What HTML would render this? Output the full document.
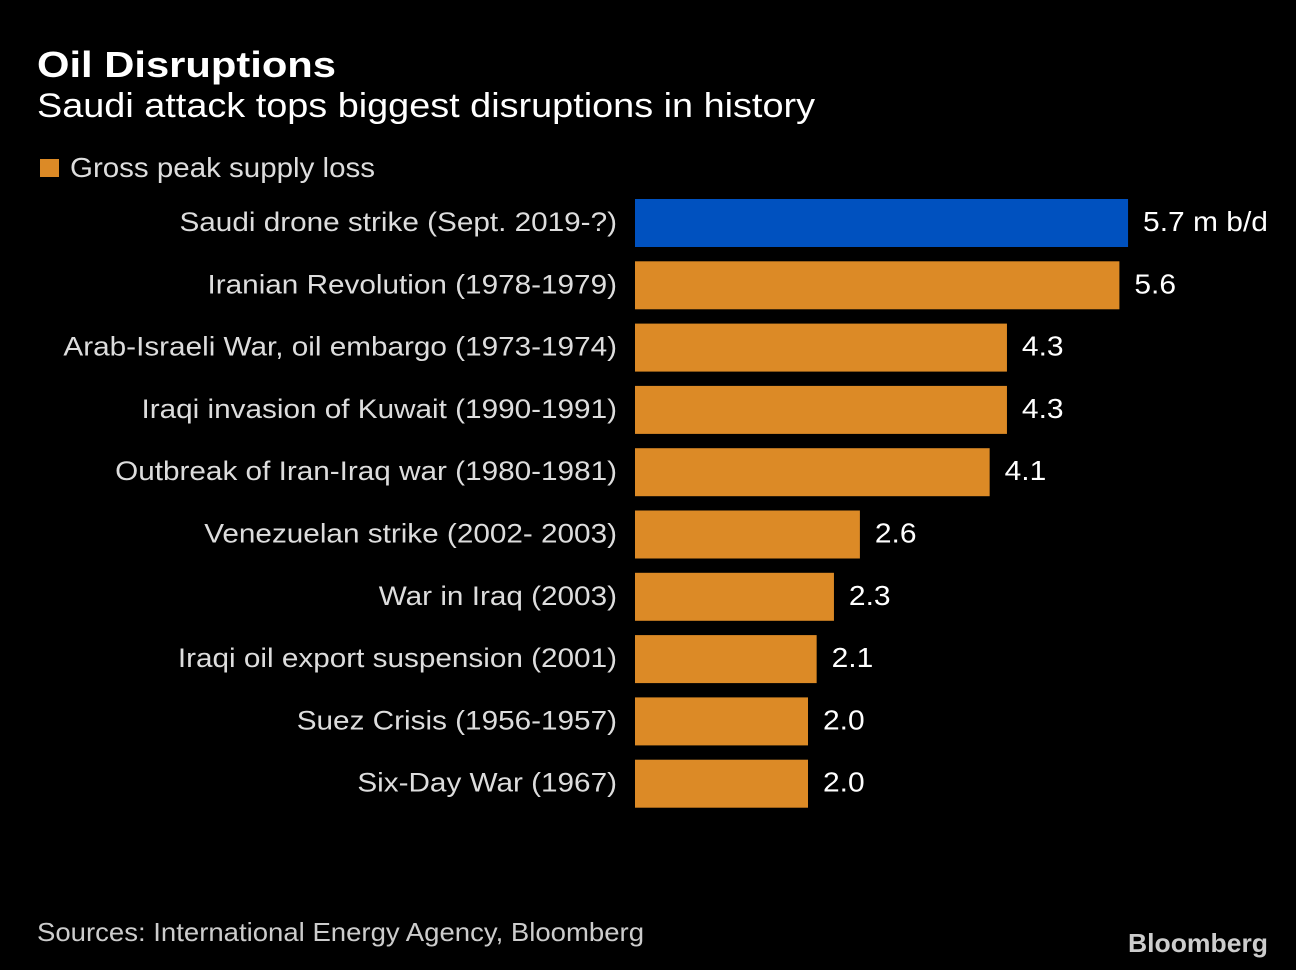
<!DOCTYPE html>
<html><head><meta charset="utf-8"><style>
html,body{margin:0;padding:0;background:#000;}
svg{display:block;font-family:"Liberation Sans",sans-serif;}
</style></head><body>
<svg width="1296" height="970" viewBox="0 0 1296 970">
<text x="37" y="77" font-size="36" font-weight="bold" fill="#fff" textLength="299" lengthAdjust="spacingAndGlyphs">Oil Disruptions</text>
<text x="37" y="117" font-size="34" fill="#fff" textLength="778" lengthAdjust="spacingAndGlyphs">Saudi attack tops biggest disruptions in history</text>
<rect x="40" y="159" width="19" height="18" fill="#dc8a26"/>
<text x="70" y="177" font-size="28" fill="#ddd" textLength="305" lengthAdjust="spacingAndGlyphs">Gross peak supply loss</text>
<g id="bars"></g>
<text x="37" y="941" font-size="26" fill="#ccc" textLength="607" lengthAdjust="spacingAndGlyphs">Sources: International Energy Agency, Bloomberg</text>
<text x="1128" y="952" font-size="26" font-weight="bold" fill="#ccc" textLength="140" lengthAdjust="spacingAndGlyphs">Bloomberg</text>
</svg>
<script>
const categories = ["Saudi drone strike (Sept. 2019-?)","Iranian Revolution (1978-1979)","Arab-Israeli War, oil embargo (1973-1974)","Iraqi invasion of Kuwait (1990-1991)","Outbreak of Iran-Iraq war (1980-1981)","Venezuelan strike (2002- 2003)","War in Iraq (2003)","Iraqi oil export suspension (2001)","Suez Crisis (1956-1957)","Six-Day War (1967)"];
const values = [5.7,5.6,4.3,4.3,4.1,2.6,2.3,2.1,2.0,2.0];
const valueLabels = ["5.7 m b/d","5.6","4.3","4.3","4.1","2.6","2.3","2.1","2.0","2.0"];
const x0 = 635, pxPerUnit = 86.5, rowTop = 199, rowStep = 62.3, barH = 48;
const xs = v => x0 + v * pxPerUnit;
const ys = i => rowTop + i * rowStep;
const g = document.getElementById('bars');
const NS = 'http://www.w3.org/2000/svg';
categories.forEach((c, i) => {
  const r = document.createElementNS(NS, 'rect');
  r.setAttribute('x', x0);
  r.setAttribute('y', ys(i));
  r.setAttribute('width', xs(values[i]) - x0);
  r.setAttribute('height', barH);
  r.setAttribute('fill', i === 0 ? '#0051bf' : '#dc8a26');
  
  
  g.appendChild(r);
  const t = document.createElementNS(NS, 'text');
  t.setAttribute('x', 617);
  t.setAttribute('y', ys(i) + 32);
  t.setAttribute('text-anchor', 'end');
  t.setAttribute('font-size', '27');
  t.setAttribute('fill', '#ddd');
  t.textContent = c;
  
  
  g.appendChild(t);
  const w = t.getComputedTextLength();
  if (w > 0) { t.setAttribute('textLength', w * 1.1); t.setAttribute('lengthAdjust', 'spacingAndGlyphs'); }
  const v = document.createElementNS(NS, 'text');
  v.setAttribute('x', xs(values[i]) + 15);
  v.setAttribute('y', ys(i) + 32);
  v.setAttribute('font-size', '28');
  v.setAttribute('fill', '#fff');
  v.textContent = valueLabels[i];
  
  
  g.appendChild(v);
  const vw = v.getComputedTextLength();
  if (vw > 0) { v.setAttribute('textLength', vw * 1.07); v.setAttribute('lengthAdjust', 'spacingAndGlyphs'); }
});
</script>
</body></html>
